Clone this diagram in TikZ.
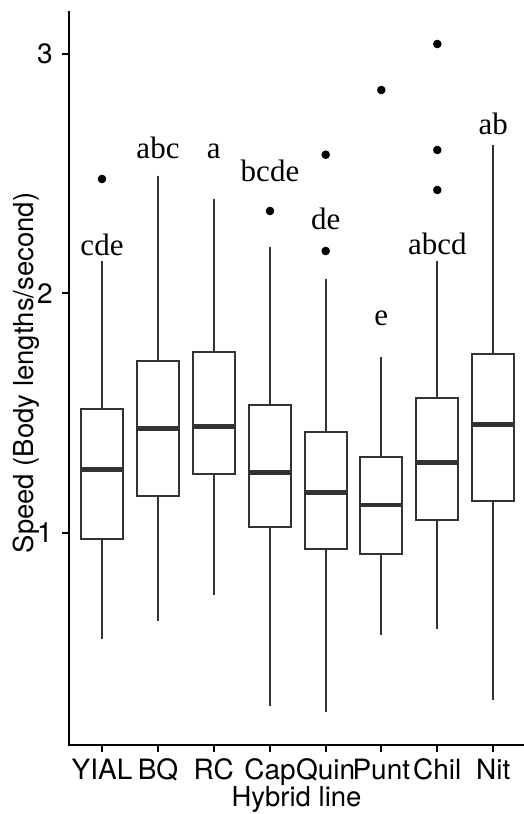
\documentclass[tikz,border=0pt]{standalone}
\usepackage{fontspec}
\setmainfont{TeX Gyre Heros}
\newfontfamily\letfont{Liberation Serif}
\definecolor{boxcol}{HTML}{333333}
\tikzset{
  boxline/.style={draw=boxcol, line width=2.2pt},
  medline/.style={draw=boxcol, line width=4.6pt},
  axisline/.style={draw=black, line width=2pt},
  outlier/.style={circle, fill=black, inner sep=0pt, minimum size=8.6pt},
  letlab/.style={font=\letfont\fontsize{31}{34}\selectfont, anchor=base, inner sep=0pt},
  ticklab/.style={font=\fontsize{28}{31}\selectfont, inner sep=0pt},
  titlelab/.style={font=\fontsize{27.5}{31}\selectfont, inner sep=0pt},
}
% \bxp{name}{x}{upper whisker}{q3}{median}{q1}{lower whisker}
\newcommand{\bxp}[7]{%
  \coordinate (#1wt) at (#2,#3);
  \coordinate (#1q3) at (#2,#4);
  \coordinate (#1q1) at (#2,#6);
  \coordinate (#1wb) at (#2,#7);
  \draw[boxline] (#1wt) -- (#1q3);
  \draw[boxline] (#1q1) -- (#1wb);
  \draw[boxline, fill=white] ([xshift=-21pt]#1q3) rectangle ([xshift=21pt]#1q1);
  \draw[medline] ([xshift=-20pt]#2,#5) -- ([xshift=20pt]#2,#5);
}
\begin{document}
\begin{tikzpicture}[x=1pt,y=-1pt]
\useasboundingbox (0,0) rectangle (524,814);
% axes
\coordinate (otop) at (69,11);
\coordinate (orig) at (69,745);
\coordinate (xend) at (524,745);
\draw[axisline] (otop) -- (orig) -- (xend);
% y ticks
\foreach \v/\yy in {3/53.7,2/293.2,1/532.7}{
  \coordinate (yt\v) at (69,\yy);
  \draw[axisline] (yt\v) -- ++(-7,0);
  \node[ticklab, anchor=east] (ylab\v) at (53,\yy) {\v};
}
% boxes
\bxp{yial}{102}{261.3}{409.3}{469.7}{539.3}{638.7}
\bxp{bq}{158}{175.7}{360.7}{428.3}{496}{621.3}
\bxp{rc}{213.7}{198.7}{352.3}{426.7}{474}{595}
\bxp{cap}{270}{246.7}{404.7}{472.7}{526.7}{706}
\bxp{quin}{325.7}{278.7}{432.3}{492.3}{549}{712}
\bxp{punt}{381.3}{357.3}{457}{505}{554}{635.3}
\bxp{chil}{437.3}{260.7}{397.7}{462.7}{520.3}{628.7}
\bxp{nit}{493.3}{145}{354}{424.3}{501}{700}
% outliers
\node[outlier] (o1) at (102,179) {};
\node[outlier] (o2) at (270,211) {};
\node[outlier] (o3) at (325.7,251) {};
\node[outlier] (o4) at (325.7,154.7) {};
\node[outlier] (o5) at (381.3,90) {};
\node[outlier] (o6) at (437.3,44) {};
\node[outlier] (o7) at (437.3,150) {};
\node[outlier] (o8) at (437.3,190) {};
% letter labels
\node[letlab] (l1) at (102,255) {cde};
\node[letlab] (l2) at (158,158.3) {abc};
\node[letlab] (l3) at (213.7,158.3) {a};
\node[letlab] (l4) at (270,181.7) {bcde};
\node[letlab] (l5) at (325.7,229.3) {de};
\node[letlab] (l6) at (381.3,325) {e};
\node[letlab] (l7) at (437.3,254) {abcd};
\node[letlab] (l8) at (493.3,134.3) {ab};
% x ticks and labels
\foreach \n/\xx/\t in {1/102/YIAL,2/158/BQ,3/213.7/RC,4/270/Cap,5/325.7/Quin,6/381.3/Punt,7/437.3/Chil,8/493.3/Nit}{
  \coordinate (xt\n) at (\xx,745);
  \draw[axisline] (xt\n) -- ++(0,7);
  \node[ticklab, anchor=base] (xlab\n) at (\xx,779) {\t};
}
% axis titles
\node[titlelab, anchor=base] (xtitle) at (296.5,806) {Hybrid line};
\node[titlelab, anchor=base, rotate=90] (ytitle) at (33,373) {Speed (Body lengths/second)};
\end{tikzpicture}
\end{document}
